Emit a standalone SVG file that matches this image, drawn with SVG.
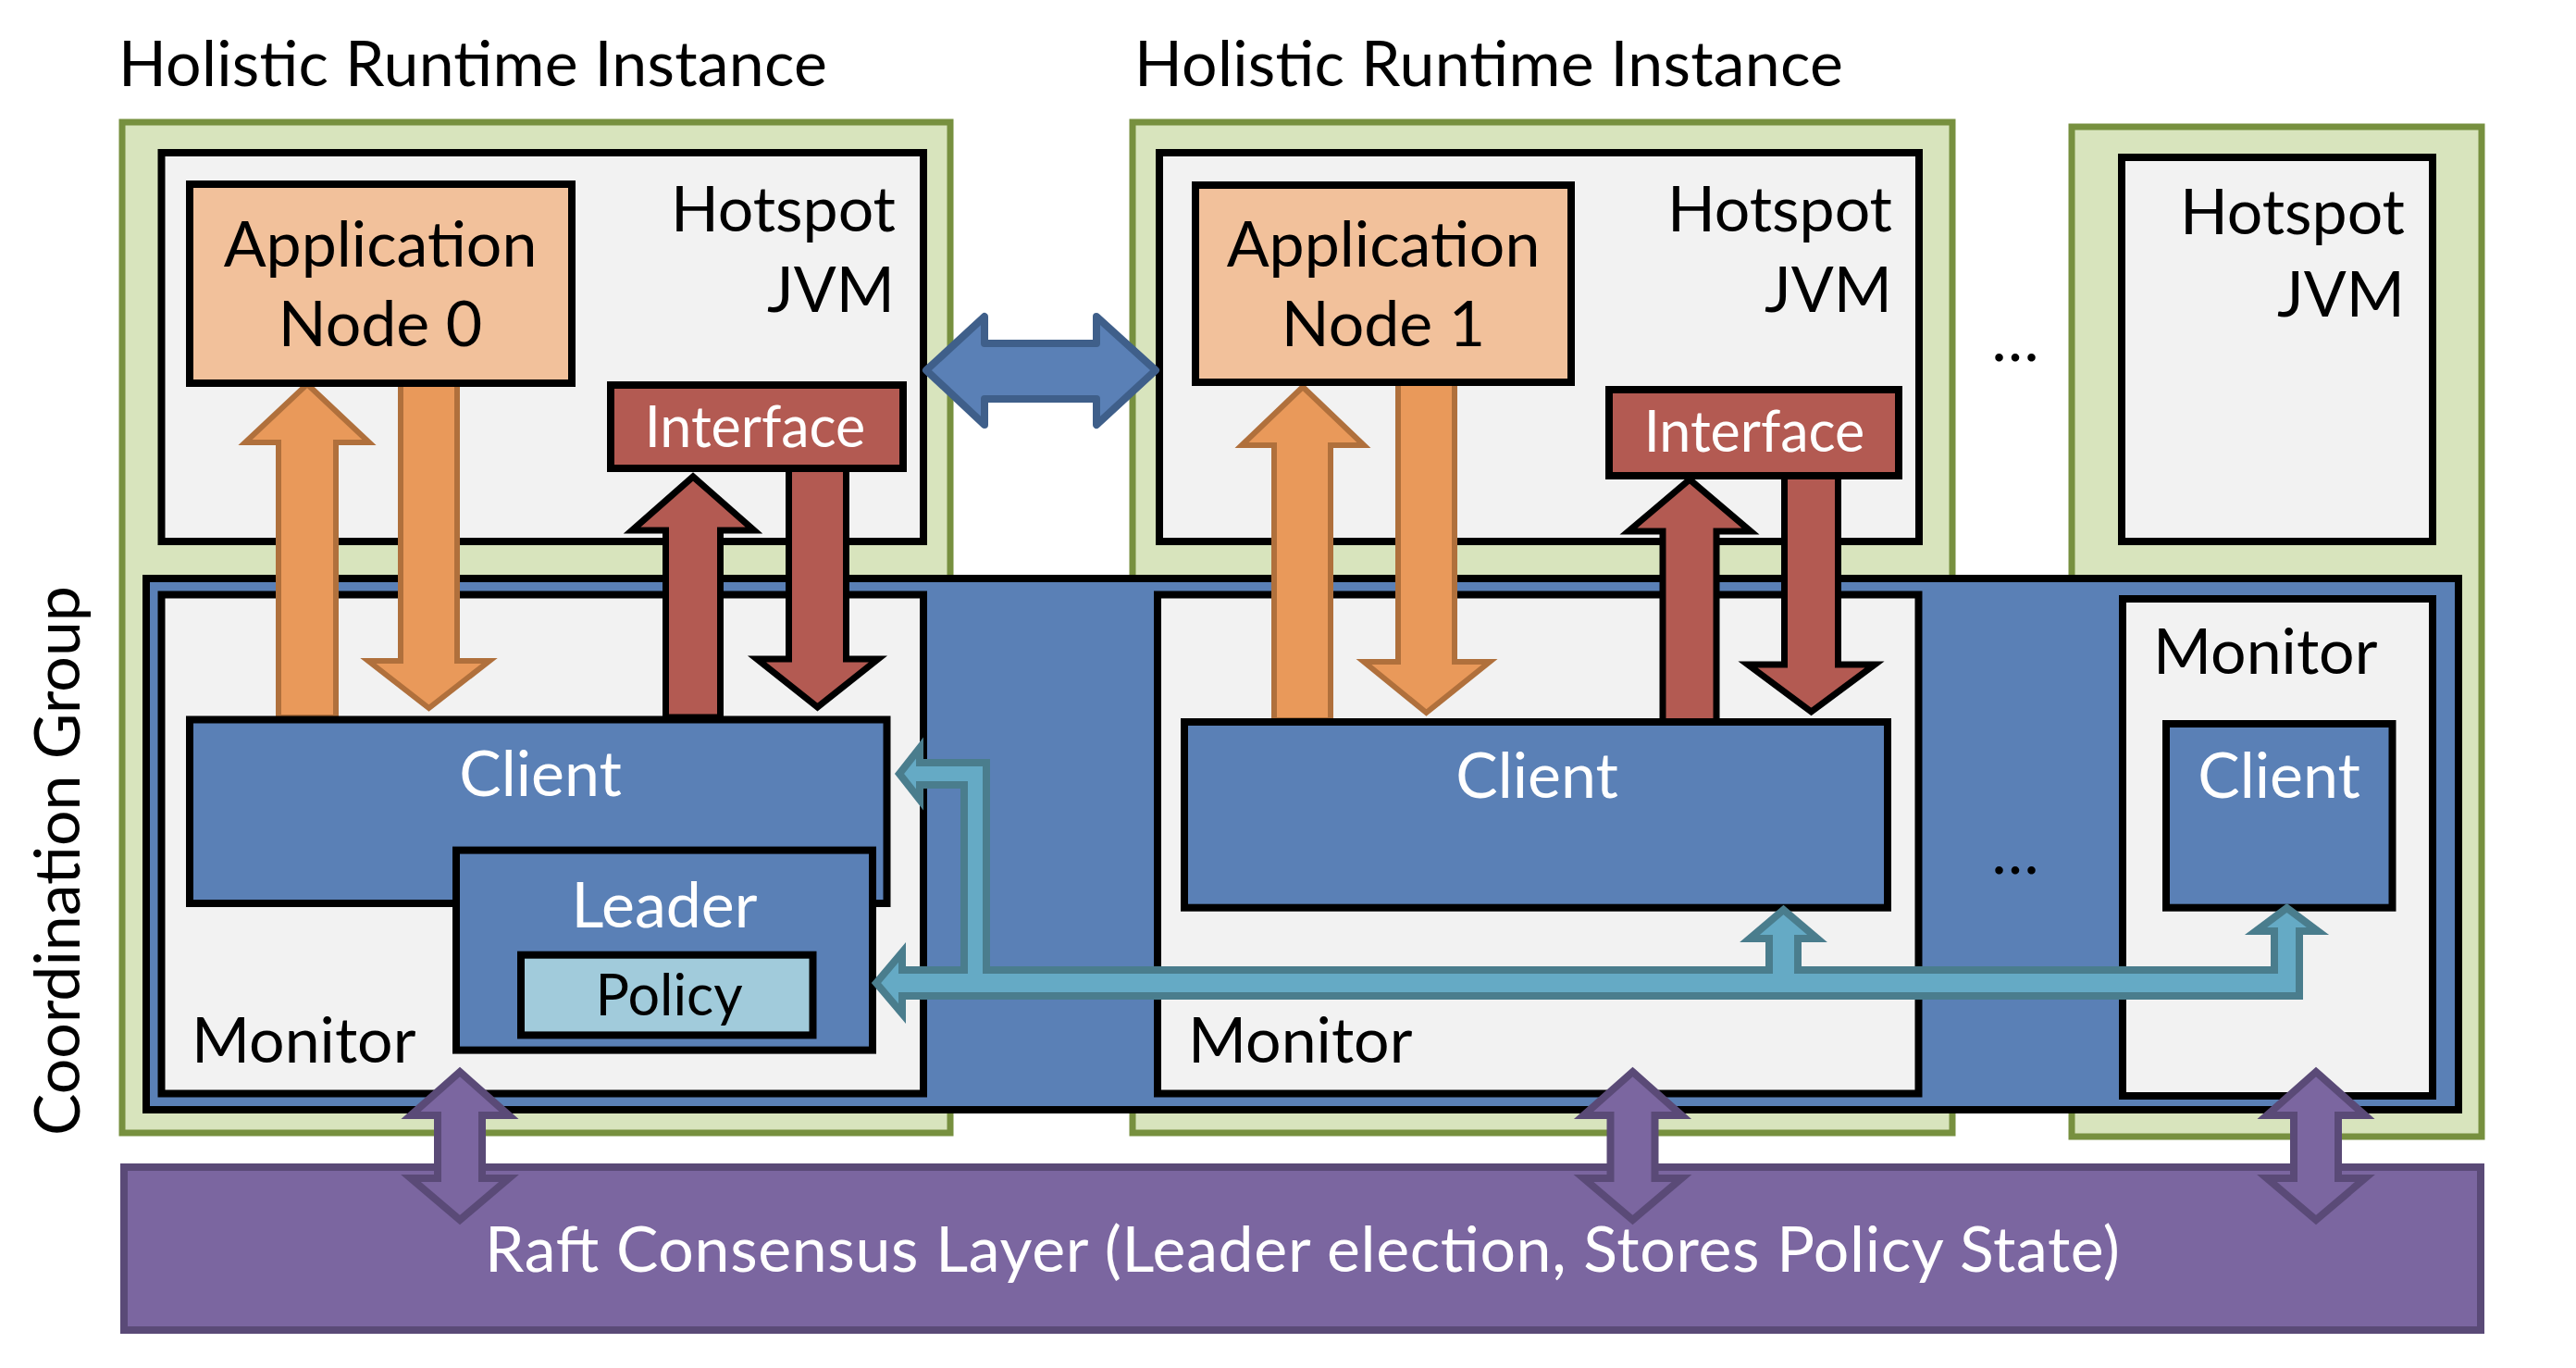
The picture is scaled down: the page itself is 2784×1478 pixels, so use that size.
<svg xmlns="http://www.w3.org/2000/svg" width="2784" height="1478" viewBox="0 0 2784 1478">
<style>
text{font-family:Lato,"Liberation Sans",sans-serif;}
.t{font-size:68px;fill:#000}
.w{font-size:68px;fill:#fff}
.s{font-size:61px}
.green{fill:#D8E4BD;stroke:#77903F;stroke-width:7}
.jvm{fill:#F2F2F2;stroke:#000;stroke-width:8}
.app{fill:#F2C19B;stroke:#000;stroke-width:8}
.iface{fill:#B35A52;stroke:#000;stroke-width:8}
.blue{fill:#5A80B6;stroke:#000;stroke-width:8}
.policy{fill:#A1CBDB;stroke:#000;stroke-width:8}
.raft{fill:#7B66A0;stroke:#5A4A77;stroke-width:8}
.oarr{fill:#E9995A;stroke:#B0703C;stroke-width:6}
.rarr{fill:#B35A52;stroke:#000;stroke-width:7}
.carr{fill:#65AAC5;stroke:#4A7D8D;stroke-width:8}
.barr{fill:#5A80B6;stroke:#3F5F8A;stroke-width:8;stroke-linejoin:round}
.parr{fill:#7B66A0;stroke:#5A4A77;stroke-width:8}
</style>
<defs>
<polygon id="pud" points="0,1158 53,1205 24,1205 24,1273 53,1273 0,1318 -53,1273 -24,1273 -24,1205 -53,1205"/>
</defs>
<rect width="2784" height="1478" fill="#fff"/>
<g id="instance1">
<rect class="green" x="132" y="132" width="895" height="1092"/>
<text class="t" x="128" y="93" textLength="766">Holistic Runtime Instance</text>
</g>
<g id="instance2">
<rect class="green" x="1224" y="132" width="886" height="1092"/>
<text class="t" x="1226" y="93" textLength="766">Holistic Runtime Instance</text>
</g>
<g id="instance3">
<rect class="green" x="2239" y="137" width="443" height="1091"/>
</g>
<g id="jvm1">
<rect class="jvm" x="174.5" y="165" width="823.5" height="420"/>
<text class="t" x="968" y="250" text-anchor="end">Hotspot</text>
<text class="t" x="967" y="337" text-anchor="end">JVM</text>
</g>
<g id="jvm2">
<rect class="jvm" x="1253" y="165" width="821" height="420"/>
<text class="t" x="2045" y="250" text-anchor="end">Hotspot</text>
<text class="t" x="2045" y="337" text-anchor="end">JVM</text>
</g>
<g id="jvm3">
<rect class="jvm" x="2293" y="170" width="336" height="415"/>
<text class="t" x="2599" y="253" text-anchor="end">Hotspot</text>
<text class="t" x="2599" y="342" text-anchor="end">JVM</text>
</g>
<g id="ellipsis-top"><text class="t" x="2178" y="390" text-anchor="middle">…</text></g>
<g id="coordination-group">
<rect class="blue" x="158" y="625" width="2499" height="574"/>
<text class="t" transform="translate(86 930) rotate(-90)" text-anchor="middle" textLength="594">Coordination Group</text>
</g>
<g id="monitor1">
<rect class="jvm" x="174.5" y="642.5" width="823.5" height="539"/>
<text class="t" x="207" y="1148">Monitor</text>
</g>
<g id="monitor2">
<rect class="jvm" x="1251" y="642.5" width="822.5" height="539"/>
<text class="t" x="1284" y="1148">Monitor</text>
</g>
<g id="monitor3">
<rect class="jvm" x="2294" y="647" width="335" height="537"/>
<text class="t" x="2327" y="728">Monitor</text>
</g>
<g id="ellipsis-mid"><text class="t" x="2178" y="944" text-anchor="middle">…</text></g>
<g id="connectors">
<polygon class="oarr" points="332,415 399,478 363,478 363,775 301,775 301,478 265,478"/>
<polygon class="oarr" points="433,414 494,414 494,714 529,714 463.5,765 398,714 433,714"/>
<polygon class="rarr" points="749,515 815,573 778.5,573 778.5,775 719.5,775 719.5,573 683,573"/>
<polygon class="rarr" points="852.5,506 914.5,506 914.5,712 949,712 883.5,764 818,712 852.5,712"/>
<polygon class="oarr" points="1408,418 1474,481 1438,481 1438,778 1377,778 1377,481 1342,481"/>
<polygon class="oarr" points="1511,414 1572,414 1572,715 1610,715 1541.5,770 1474,715 1511,715"/>
<polygon class="rarr" points="1826,518 1892,574 1855,574 1855,780 1797,780 1797,574 1760,574"/>
<polygon class="rarr" points="1928.5,514 1986.5,514 1986.5,718 2026,718 1957.5,769 1889,718 1928.5,718"/>
</g>
<g id="app0">
<rect class="app" x="205" y="199" width="413" height="215"/>
<text class="t" x="411" y="288" text-anchor="middle">Application</text>
<text class="t" x="411" y="374" text-anchor="middle">Node 0</text>
</g>
<g id="app1">
<rect class="app" x="1292" y="200" width="406" height="213"/>
<text class="t" x="1495" y="288" text-anchor="middle">Application</text>
<text class="t" x="1495" y="374" text-anchor="middle">Node 1</text>
</g>
<g id="interface1">
<rect class="iface" x="660" y="416" width="316" height="90"/>
<text class="w s" x="816" y="483" text-anchor="middle">Interface</text>
</g>
<g id="interface2">
<rect class="iface" x="1739" y="421" width="313" height="93"/>
<text class="w s" x="1896" y="488" text-anchor="middle">Interface</text>
</g>
<g id="client1">
<rect class="blue" x="205" y="777.5" width="753.5" height="198.5"/>
<text class="w" x="584" y="860" text-anchor="middle">Client</text>
</g>
<g id="leader">
<rect class="blue" x="493" y="918.6" width="450" height="216"/>
<text class="w" x="718" y="1002" text-anchor="middle">Leader</text>
</g>
<g id="policy">
<rect class="policy" x="563" y="1031.7" width="315.5" height="86.7"/>
<text class="t s" x="723" y="1097" text-anchor="middle">Policy</text>
</g>
<g id="client2">
<rect class="blue" x="1280" y="780" width="760" height="200.7"/>
<text class="w" x="1661" y="862" text-anchor="middle">Client</text>
</g>
<g id="client3">
<rect class="blue" x="2341" y="782" width="244.5" height="198.7"/>
<text class="w" x="2463" y="862" text-anchor="middle">Client</text>
</g>
<g id="raft">
<rect class="raft" x="134" y="1261" width="2547" height="176"/>
<text class="w" x="524" y="1374" textLength="1767">Raft Consensus Layer (Leader election, Stores Policy State)</text>
</g>
<g id="connectors2">
<polygon class="barr" points="1001,400 1064,342 1064,371 1185,371 1185,342 1249,400 1185,459 1185,431 1064,431 1064,459"/>
<polygon class="carr" points="947,1062 975,1029 975,1048 1042,1048 1042,848 994,848 994,864 972,836 994,808 994,824 1066,824 1066,1048 1912,1048 1912,1014 1891,1014 1927.5,983 1964,1014 1943,1014 1943,1048 2458,1048 2458,1006 2438,1006 2471.5,981 2505,1006 2485,1006 2485,1076 975,1076 975,1095"/>
<use href="#pud" class="parr" transform="translate(497 0)"/>
<use href="#pud" class="parr" transform="translate(1764.5 0)"/>
<use href="#pud" class="parr" transform="translate(2503 0)"/>
</g>
</svg>
